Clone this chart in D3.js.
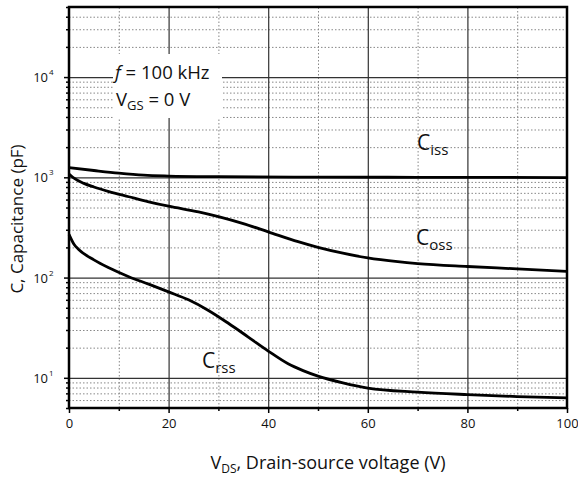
<!DOCTYPE html>
<meta charset="utf-8">
<style>
body {
    margin: 0px;
    background: white;
    overflow: hidden;
}
text {
    font-family: "Open Sans", sans-serif;
    fill: #111;
}
.grid-major line { stroke: #333; stroke-width: 1.2px; }
.grid-minor line { stroke: #888; stroke-width: 1px; stroke-dasharray: 1.5,2; }
.curve { fill: none; stroke: #000; stroke-width: 2.8px; }
</style>
<body>
<script src="https://d3js.org/d3.v7.min.js"></script>
<script>
// drain-source voltage (V) and capacitances (pF)
var vdsIss = [0, 5, 10, 15, 20, 30, 50, 70, 100];
var ciss   = [1250, 1170, 1100, 1050, 1030, 1015, 1005, 1000, 995];

var vdsOss = [0, 1, 3, 5, 8, 12, 16, 20, 26, 30, 35, 40, 46, 50, 55, 60, 66, 70, 80, 90, 100];
var coss   = [1080, 980, 870, 800, 720, 640, 570, 515, 452, 405, 345, 286, 228, 200, 175, 157, 144, 138, 129, 122, 115];

var vdsRss = [0, 1, 2, 5, 8, 12, 16, 20, 24, 28, 32, 36, 40, 44, 47, 50, 55, 60, 70, 80, 90, 100];
var crss   = [270, 215, 190, 150, 125, 102, 86, 72, 60, 47, 35, 25.5, 18.5, 13.8, 11.8, 10.4, 8.9, 7.9, 7.2, 6.8, 6.5, 6.3];

var xMajor = [0, 20, 40, 60, 80, 100];
var xMinor = [10, 30, 50, 70, 90];
var yDecades = [10, 100, 1000, 10000];

var width = 578, height = 477;
var margin = {top: 7, right: 11, bottom: 69, left: 69};

var x = d3.scaleLinear().domain([0, 100]).range([margin.left, width - margin.right]);
var y = d3.scaleLog().domain([5, 50000]).range([height - margin.bottom, margin.top]);

var svg = d3.select("body").append("svg")
    .attr("width", width)
    .attr("height", height);

// minor log values 2..9 per decade inside domain
var yMinor = [];
[1, 10, 100, 1000, 10000].forEach(function(d) {
    for (var k = 2; k <= 9; k++) {
        var v = d * k;
        if (v >= 5 && v <= 50000) yMinor.push(v);
    }
});

// grid
svg.append("g").attr("class", "grid-minor")
    .attr("transform", "translate(" + margin.left + ",0)")
    .call(d3.axisLeft(y).tickValues(yMinor).tickSize(-(width - margin.left - margin.right)).tickFormat(""))
    .call(function(g) { g.select(".domain").remove(); });
svg.append("g").attr("class", "grid-minor")
    .attr("transform", "translate(0," + (height - margin.bottom) + ")")
    .call(d3.axisBottom(x).tickValues(xMinor).tickSize(-(height - margin.top - margin.bottom)).tickFormat(""))
    .call(function(g) { g.select(".domain").remove(); });
svg.append("g").attr("class", "grid-major")
    .attr("transform", "translate(" + margin.left + ",0)")
    .call(d3.axisLeft(y).tickValues(yDecades).tickSize(-(width - margin.left - margin.right)).tickFormat(""))
    .call(function(g) { g.select(".domain").remove(); });
svg.append("g").attr("class", "grid-major")
    .attr("transform", "translate(0," + (height - margin.bottom) + ")")
    .call(d3.axisBottom(x).tickValues(xMajor.slice(1, -1)).tickSize(-(height - margin.top - margin.bottom)).tickFormat(""))
    .call(function(g) { g.select(".domain").remove(); });

// white box behind the test conditions
svg.append("rect")
    .attr("x", 113).attr("y", 54)
    .attr("width", 109).attr("height", 64)
    .attr("fill", "white");

var note = svg.append("g").style("font-size", "18.5px");
var t1 = note.append("text").attr("x", 115).attr("y", 79);
t1.append("tspan").style("font-style", "italic").text("f");
t1.append("tspan").text(" = 100 kHz");
var t2 = note.append("text").attr("x", 116).attr("y", 106);
t2.append("tspan").text("V");
t2.append("tspan").attr("dy", 4).style("font-size", "13px").text("GS");
t2.append("tspan").attr("dy", -4).text(" = 0 V");

// curves
var line = d3.line()
    .x(function(d) { return x(d[0]); })
    .y(function(d) { return y(d[1]); })
    .curve(d3.curveMonotoneX);

[[vdsIss, ciss], [vdsOss, coss], [vdsRss, crss]].forEach(function(s) {
    svg.append("path")
        .attr("class", "curve")
        .attr("d", line(d3.zip(s[0], s[1])));
});

// curve labels
function label(px, py, sub) {
    var t = svg.append("text").attr("x", px).attr("y", py).style("font-size", "21px");
    t.append("tspan").text("C");
    t.append("tspan").attr("dy", 5).style("font-size", "15px").text(sub);
}
label(417, 150, "iss");
label(416, 245, "oss");
label(202, 368, "rss");

// frame
svg.append("rect")
    .attr("x", margin.left).attr("y", margin.top)
    .attr("width", width - margin.left - margin.right)
    .attr("height", height - margin.top - margin.bottom)
    .attr("fill", "none")
    .attr("stroke", "#000")
    .attr("stroke-width", 2.5);

// axes ticks
var yAxis = svg.append("g")
    .attr("transform", "translate(" + margin.left + ",0)")
    .call(d3.axisLeft(y).tickValues(yDecades).tickSize(5).tickFormat(""));
yAxis.select(".domain").remove();
yAxis.selectAll("line").attr("stroke-width", 1.5);
var yAxisMinor = svg.append("g")
    .attr("transform", "translate(" + margin.left + ",0)")
    .call(d3.axisLeft(y).tickValues(yMinor).tickSize(3).tickFormat(""));
yAxisMinor.select(".domain").remove();
yAxisMinor.selectAll("line").attr("stroke-width", 1.5);

var xAxis = svg.append("g")
    .attr("transform", "translate(0," + (height - margin.bottom) + ")")
    .call(d3.axisBottom(x).tickValues(xMajor).tickSize(5).tickPadding(6));
xAxis.select(".domain").remove();
xAxis.selectAll("line").attr("stroke-width", 1.5);
xAxis.selectAll("text").style("font-size", "13px").style("font-family", "'Open Sans', sans-serif").attr("fill", "#111");
var xAxisMinor = svg.append("g")
    .attr("transform", "translate(0," + (height - margin.bottom) + ")")
    .call(d3.axisBottom(x).tickValues(xMinor).tickSize(3).tickFormat(""));
xAxisMinor.select(".domain").remove();
xAxisMinor.selectAll("line").attr("stroke-width", 1.5);

// y tick labels as powers of ten
yDecades.forEach(function(d) {
    var t = svg.append("text")
        .attr("x", 48).attr("y", y(d) + 5)
        .attr("text-anchor", "end")
        .style("font-size", "13px");
    t.text("10");
    svg.append("text")
        .attr("x", 49).attr("y", y(d) - 2)
        .style("font-size", "8px")
        .text(Math.round(Math.log10(d)));
});

// axis titles
var xt = svg.append("text")
    .attr("x", 328).attr("y", 469)
    .attr("text-anchor", "middle")
    .style("font-size", "18px");
xt.append("tspan").text("V");
xt.append("tspan").attr("dy", 4).style("font-size", "12px").text("DS");
xt.append("tspan").attr("dy", -4).text(", Drain-source voltage (V)");

svg.append("text")
    .attr("transform", "translate(23,219) rotate(-90)")
    .attr("text-anchor", "middle")
    .style("font-size", "17px")
    .text("C, Capacitance (pF)");
</script>
</body>
</html>
